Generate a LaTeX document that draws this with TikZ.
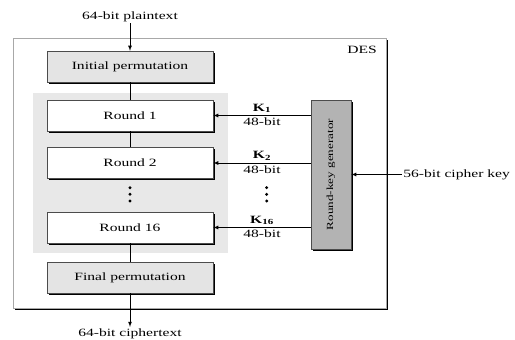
\documentclass[tikz,border=0pt]{standalone}
\usepackage{fontspec}
\setmainfont{Liberation Serif}[FakeStretch=1.4]
\usetikzlibrary{shadows}

\definecolor{boxgray}{HTML}{E4E4E4}
\definecolor{areagray}{HTML}{E8E8E8}
\definecolor{keygray}{HTML}{B3B3B3}
\definecolor{framegray}{HTML}{A8A8A8}

\tikzset{
  txt/.style={font=\fontsize{9.5}{11}\selectfont, inner sep=1pt},
  stagebox/.style={draw=black!70, line width=0.4pt, minimum width=4.98cm, minimum height=0.93cm,
    font=\fontsize{9.5}{11}\selectfont,
    drop shadow={shadow xshift=1.4pt, shadow yshift=-1.4pt, fill=black, opacity=1}},
  keybox/.style={draw=black!70, fill=keygray, line width=0.4pt, minimum width=1.2cm, minimum height=4.47cm,
    font=\fontsize{8}{10}\selectfont,
    drop shadow={shadow xshift=1.6pt, shadow yshift=-1.6pt, fill=black, opacity=1}},
  flow/.style={-latex, line width=0.5pt},
}

\begin{document}
\begin{tikzpicture}
  \useasboundingbox (0,0) rectangle (15.45,10.2);
  % DES frame and the round area
  \filldraw[draw=framegray, fill=white, line width=0.8pt,
    drop shadow={shadow xshift=2pt, shadow yshift=-2pt, fill=black, opacity=1}]
    (0.39,0.96) rectangle (11.58,9.06);
  \fill[areagray] (0.99,2.61) rectangle (6.84,7.41);
  \node[txt] (des) at (10.86,8.7) {DES};

  % stages
  \node[stagebox, fill=boxgray] (init) at (3.9,8.205) {Initial permutation};
  \node[stagebox, fill=white] (r1) at (3.9,6.735) {Round 1};
  \node[stagebox, fill=white] (r2) at (3.9,5.31) {Round 2};
  \coordinate (rdots) at (3.9,4.37);
  \node[stagebox, fill=white] (r16) at (3.9,3.375) {Round 16};
  \node[stagebox, fill=boxgray] (final) at (3.9,1.875) {Final permutation};

  \node[txt] (plain) at (3.9,9.69) {64-bit plaintext};
  \node[txt] (cipher) at (3.9,0.2) {64-bit ciphertext};

  % key schedule
  \node[keybox] (kgen) at (9.93,4.965) {\rotatebox{90}{Round-key generator}};
  \node[txt, anchor=west] (ckey) at (12.06,4.965) {56-bit cipher key};
  \coordinate (kdots) at (8.0,4.37);

  \foreach \d in {-0.2,0,0.2} {
    \fill[shift={(rdots)}] (0,\d) circle (1.4pt);
    \fill[shift={(kdots)}] (0,\d) circle (1.4pt);
  }

  \draw[flow] (plain) -- (init);
  \draw (init) -- (r1);
  \draw (r1) -- (r2);
  \draw (r16) -- (final);
  \draw[flow] (final) -- (cipher);
  \draw[flow] (ckey) -- (kgen);

  \draw[flow] (kgen.west |- r1.east) -- (r1.east)
    node[txt, midway, above=1pt] {\textbf{K}\textsubscript{\textbf{1}}}
    node[txt, midway, below=1pt] {48-bit};
  \draw[flow] (kgen.west |- r2.east) -- (r2.east)
    node[txt, midway, above=1pt] {\textbf{K}\textsubscript{\textbf{2}}}
    node[txt, midway, below=1pt] {48-bit};
  \draw[flow] (kgen.west |- r16.east) -- (r16.east)
    node[txt, midway, above=1pt] {\textbf{K}\textsubscript{\textbf{16}}}
    node[txt, midway, below=1pt] {48-bit};
\end{tikzpicture}
\end{document}
